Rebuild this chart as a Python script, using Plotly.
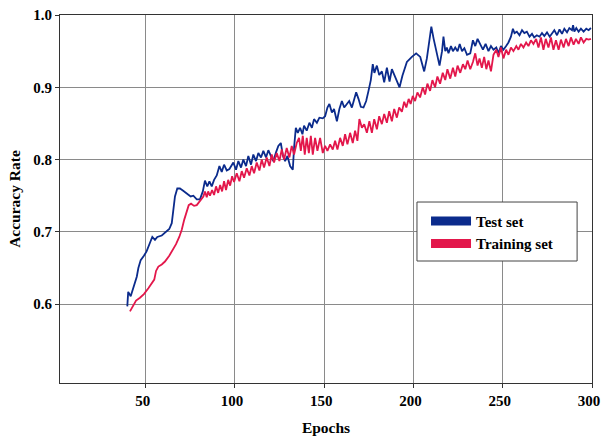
import plotly.graph_objects as go

# Test-set accuracy per epoch
test_epochs = [
    39.7, 40.2, 41.6, 43.0, 45.0, 45.9, 47.2, 49.0, 50.5, 52.4, 53.7, 55.2, 56.5, 59.0, 60.8,
    63.2, 64.6, 65.5, 66.4, 67.7, 69.2, 71.0, 73.0, 75.2, 76.7, 78.6, 80.4, 82.0, 83.2, 84.5,
    85.7, 87.0, 88.3, 89.8, 91.3, 92.6, 93.9, 95.4, 96.9, 99.1, 100.6, 101.9, 103.4, 104.7,
    106.2, 107.5, 109.0, 110.3, 111.8, 113.1, 114.6, 115.9, 117.4, 118.7, 120.1, 121.5, 123.0,
    124.3, 125.7, 126.8, 128.1, 129.4, 130.9, 132.4, 133.1, 134.1, 135.2, 136.5, 137.8, 138.7,
    140.2, 141.7, 143.1, 144.3, 145.9, 147.3, 149.2, 150.5, 151.8, 152.9, 154.3, 155.5, 157.1,
    158.5, 159.9, 161.2, 162.7, 164.0, 165.5, 166.8, 167.9, 169.2, 170.5, 172.0, 173.5, 174.8,
    176.1, 177.2, 178.1, 179.5, 180.8, 182.3, 183.6, 185.1, 186.6, 187.9, 190.7, 192.2, 193.8,
    196.3, 199.1, 201.5, 203.8, 206.0, 207.5, 209.0, 210.0, 211.3, 213.1, 214.6, 216.0, 216.8,
    217.8, 218.7, 219.6, 221.0, 222.1, 223.4, 224.7, 225.9, 227.2, 228.5, 230.0, 231.8, 233.3,
    234.6, 235.9, 237.4, 238.9, 240.4, 242.0, 243.4, 244.8, 246.4, 247.6, 249.0, 250.4, 251.9,
    253.2, 254.6, 255.7, 256.6, 257.9, 259.4, 260.8, 262.1, 263.5, 265.0, 266.4, 267.6, 269.1,
    270.6, 272.0, 273.3, 274.8, 276.3, 277.6, 278.9, 280.4, 281.8, 283.2, 284.5, 286.0, 287.3,
    288.8, 289.4, 290.1, 291.2, 292.5, 293.8, 295.3, 296.8, 298.1, 299.4,
]
test_acc = [
    0.597, 0.617, 0.611, 0.622, 0.638, 0.650, 0.661, 0.667, 0.673, 0.685, 0.693, 0.689, 0.693, 0.695, 0.699,
    0.704, 0.712, 0.729, 0.749, 0.760, 0.760, 0.757, 0.753, 0.749, 0.750, 0.745, 0.745, 0.756, 0.771, 0.763,
    0.770, 0.763, 0.772, 0.778, 0.791, 0.783, 0.793, 0.785, 0.787, 0.796, 0.786, 0.798, 0.789, 0.800,
    0.791, 0.805, 0.793, 0.807, 0.798, 0.809, 0.803, 0.812, 0.803, 0.813, 0.805, 0.798, 0.810,
    0.819, 0.823, 0.806, 0.798, 0.805, 0.791, 0.786, 0.816, 0.844, 0.837, 0.844, 0.835, 0.847,
    0.840, 0.851, 0.844, 0.856, 0.851, 0.858, 0.857, 0.860, 0.872, 0.877, 0.865, 0.870, 0.853,
    0.870, 0.881, 0.872, 0.877, 0.881, 0.872, 0.884, 0.893, 0.884, 0.873, 0.872, 0.881, 0.895,
    0.910, 0.932, 0.920, 0.930, 0.917, 0.922, 0.907, 0.927, 0.908, 0.925, 0.910, 0.900, 0.916,
    0.935, 0.942, 0.947, 0.942, 0.922, 0.940, 0.970, 0.984, 0.967, 0.945, 0.930, 0.950, 0.970,
    0.950, 0.955, 0.947, 0.957, 0.950, 0.955, 0.950, 0.960, 0.950, 0.954, 0.945, 0.947, 0.965,
    0.957, 0.967, 0.960, 0.952, 0.960, 0.950, 0.957, 0.952, 0.955, 0.947, 0.957, 0.952, 0.957,
    0.962, 0.970, 0.981, 0.975, 0.977, 0.972, 0.979, 0.975, 0.977, 0.970, 0.974, 0.969, 0.972,
    0.970, 0.975, 0.971, 0.976, 0.970, 0.975, 0.979, 0.972, 0.980, 0.974, 0.981, 0.976, 0.982,
    0.979, 0.986, 0.977, 0.982, 0.977, 0.981, 0.977, 0.981, 0.979, 0.982,
]

# Training-set accuracy per epoch
train_epochs = [
    41.2, 42.7, 44.6, 46.8, 49.0, 51.5, 53.4, 54.8, 55.8, 57.1, 59.0, 60.8, 63.2, 65.1, 67.0,
    68.8, 70.2, 71.6, 73.0, 74.1, 75.4, 77.1, 78.6, 80.0, 81.4, 82.3, 83.2, 84.2, 85.0, 86.0,
    87.2, 88.3, 89.4, 90.6, 91.7, 92.8, 93.9, 95.0, 96.2, 97.3, 98.4, 99.5, 101.0, 102.5,
    103.8, 105.1, 106.6, 108.1, 109.4, 110.7, 112.2, 113.7, 115.0, 116.3, 117.8, 119.3, 120.6,
    121.9, 123.4, 124.9, 126.2, 127.5, 129.0, 130.5, 131.8, 133.1, 134.6, 135.9, 136.9, 138.0,
    139.1, 140.2, 141.4, 142.5, 143.6, 144.9, 146.2, 147.7, 149.2, 150.5, 151.8, 153.3, 154.8,
    156.1, 157.4, 158.9, 160.4, 161.7, 163.0, 164.5, 166.0, 167.3, 168.6, 169.7, 171.1, 172.4,
    173.9, 175.3, 176.7, 178.0, 179.5, 180.8, 182.3, 183.6, 185.1, 186.4, 187.9, 189.2, 190.7,
    192.0, 193.5, 194.8, 196.0, 197.3, 198.4, 199.6, 200.9, 202.2, 203.7, 205.2, 206.5, 207.8,
    209.3, 210.6, 212.1, 213.4, 214.9, 216.4, 217.8, 219.0, 220.6, 222.1, 223.4, 224.7, 226.2,
    227.7, 229.0, 230.3, 231.8, 233.3, 234.6, 235.9, 237.0, 238.3, 239.6, 240.8, 242.0, 243.4,
    244.8, 246.4, 247.6, 249.0, 250.4, 251.9, 253.2, 254.6, 256.0, 257.6, 258.8, 260.2, 261.6,
    263.1, 264.4, 265.8, 267.2, 268.7, 270.0, 271.4, 272.8, 274.1, 275.6, 277.0, 278.4, 279.8,
    281.3, 282.6, 284.1, 285.4, 286.9, 288.2, 289.7, 291.0, 292.5, 293.8, 295.3, 296.8, 298.1,
    299.4,
]
train_acc = [
    0.590, 0.597, 0.605, 0.609, 0.614, 0.622, 0.628, 0.634, 0.646, 0.652, 0.655, 0.659, 0.667, 0.675, 0.683,
    0.693, 0.703, 0.717, 0.728, 0.737, 0.739, 0.736, 0.737, 0.741, 0.745, 0.749, 0.756, 0.748, 0.756, 0.750,
    0.758, 0.751, 0.763, 0.754, 0.765, 0.756, 0.770, 0.758, 0.772, 0.764, 0.777, 0.769, 0.781, 0.770,
    0.784, 0.775, 0.788, 0.778, 0.791, 0.781, 0.796, 0.785, 0.800, 0.789, 0.803, 0.791, 0.807,
    0.796, 0.809, 0.798, 0.814, 0.800, 0.816, 0.803, 0.819, 0.807, 0.823, 0.830, 0.812, 0.833,
    0.807, 0.830, 0.809, 0.833, 0.807, 0.830, 0.812, 0.830, 0.809, 0.819, 0.812, 0.821, 0.814,
    0.826, 0.814, 0.830, 0.819, 0.835, 0.821, 0.837, 0.823, 0.840, 0.826, 0.856, 0.844, 0.849,
    0.837, 0.853, 0.837, 0.856, 0.842, 0.860, 0.849, 0.863, 0.851, 0.867, 0.853, 0.870, 0.858,
    0.872, 0.866, 0.880, 0.872, 0.884, 0.877, 0.888, 0.881, 0.893, 0.886, 0.900, 0.890, 0.905,
    0.895, 0.910, 0.900, 0.915, 0.905, 0.920, 0.910, 0.925, 0.912, 0.927, 0.915, 0.930, 0.920,
    0.932, 0.925, 0.937, 0.925, 0.935, 0.947, 0.930, 0.940, 0.927, 0.942, 0.925, 0.937, 0.922,
    0.945, 0.952, 0.942, 0.955, 0.940, 0.952, 0.945, 0.955, 0.950, 0.957, 0.952, 0.960, 0.955,
    0.962, 0.957, 0.965, 0.960, 0.967, 0.955, 0.969, 0.952, 0.967, 0.955, 0.969, 0.952, 0.965,
    0.952, 0.966, 0.955, 0.967, 0.957, 0.969, 0.959, 0.967, 0.960, 0.969, 0.962, 0.967, 0.966,
    0.967,
]

x_ticks = [50, 100, 150, 200, 250, 300]
y_ticks = [0.6, 0.7, 0.8, 0.9, 1.0]
y_tick_text = ["0.6", "0.7", "0.8", "0.9", "1.0"]

BLUE = "#0b2b8c"
RED = "#e3174b"
SERIF = "Liberation Serif, Times New Roman, serif"

fig = go.Figure()

fig.add_trace(go.Scatter(
    x=test_epochs, y=test_acc, mode="lines", name="Test set",
    line=dict(color=BLUE, width=1.8), showlegend=False,
))
fig.add_trace(go.Scatter(
    x=train_epochs, y=train_acc, mode="lines", name="Training set",
    line=dict(color=RED, width=1.8), showlegend=False,
))
# Thick swatches for the legend entries
fig.add_trace(go.Scatter(
    x=[None], y=[None], mode="lines", name="Test set",
    line=dict(color=BLUE, width=9),
))
fig.add_trace(go.Scatter(
    x=[None], y=[None], mode="lines", name="Training set",
    line=dict(color=RED, width=9),
))

axis_common = dict(
    showline=True, linecolor="#333333", linewidth=1, mirror=True,
    showgrid=True, gridcolor="#8a8a8a", gridwidth=1,
    ticks="outside", ticklen=4, tickcolor="#333333",
    zeroline=False, automargin=False,
    tickfont=dict(family=SERIF, size=15, color="black", weight="bold"),
)

fig.update_layout(
    width=601, height=436,
    margin=dict(l=60, r=9, t=15, b=53),
    paper_bgcolor="white", plot_bgcolor="white",
    font=dict(family=SERIF, size=15, color="black", weight="bold"),
    xaxis=dict(
        range=[2, 300], tickvals=x_ticks,
        ticklabelshift=-3, ticklabeloverflow="allow",
        title=dict(text="Epochs", standoff=18,
                   font=dict(family=SERIF, size=15.5, color="black", weight="bold")),
        **axis_common,
    ),
    yaxis=dict(
        range=[0.491, 1.0], tickvals=y_ticks, ticktext=y_tick_text,
        title=dict(text="Accuracy Rate", standoff=8,
                   font=dict(family=SERIF, size=15.5, color="black", weight="bold")),
        **axis_common,
    ),
    legend=dict(
        x=0.688, y=0.4845, xanchor="left", yanchor="top",
        bgcolor="rgba(0,0,0,0)", borderwidth=0,
        font=dict(family=SERIF, size=15, color="black", weight="bold"),
        tracegroupgap=0, itemwidth=40,
    ),
    # legend frame
    shapes=[dict(
        type="rect", xref="paper", yref="paper",
        x0=0.671, x1=0.972, y0=0.3315, y1=0.4918,
        line=dict(color="#444444", width=1), fillcolor="white", layer="above",
    )],
)

fig.write_html("out.html")
